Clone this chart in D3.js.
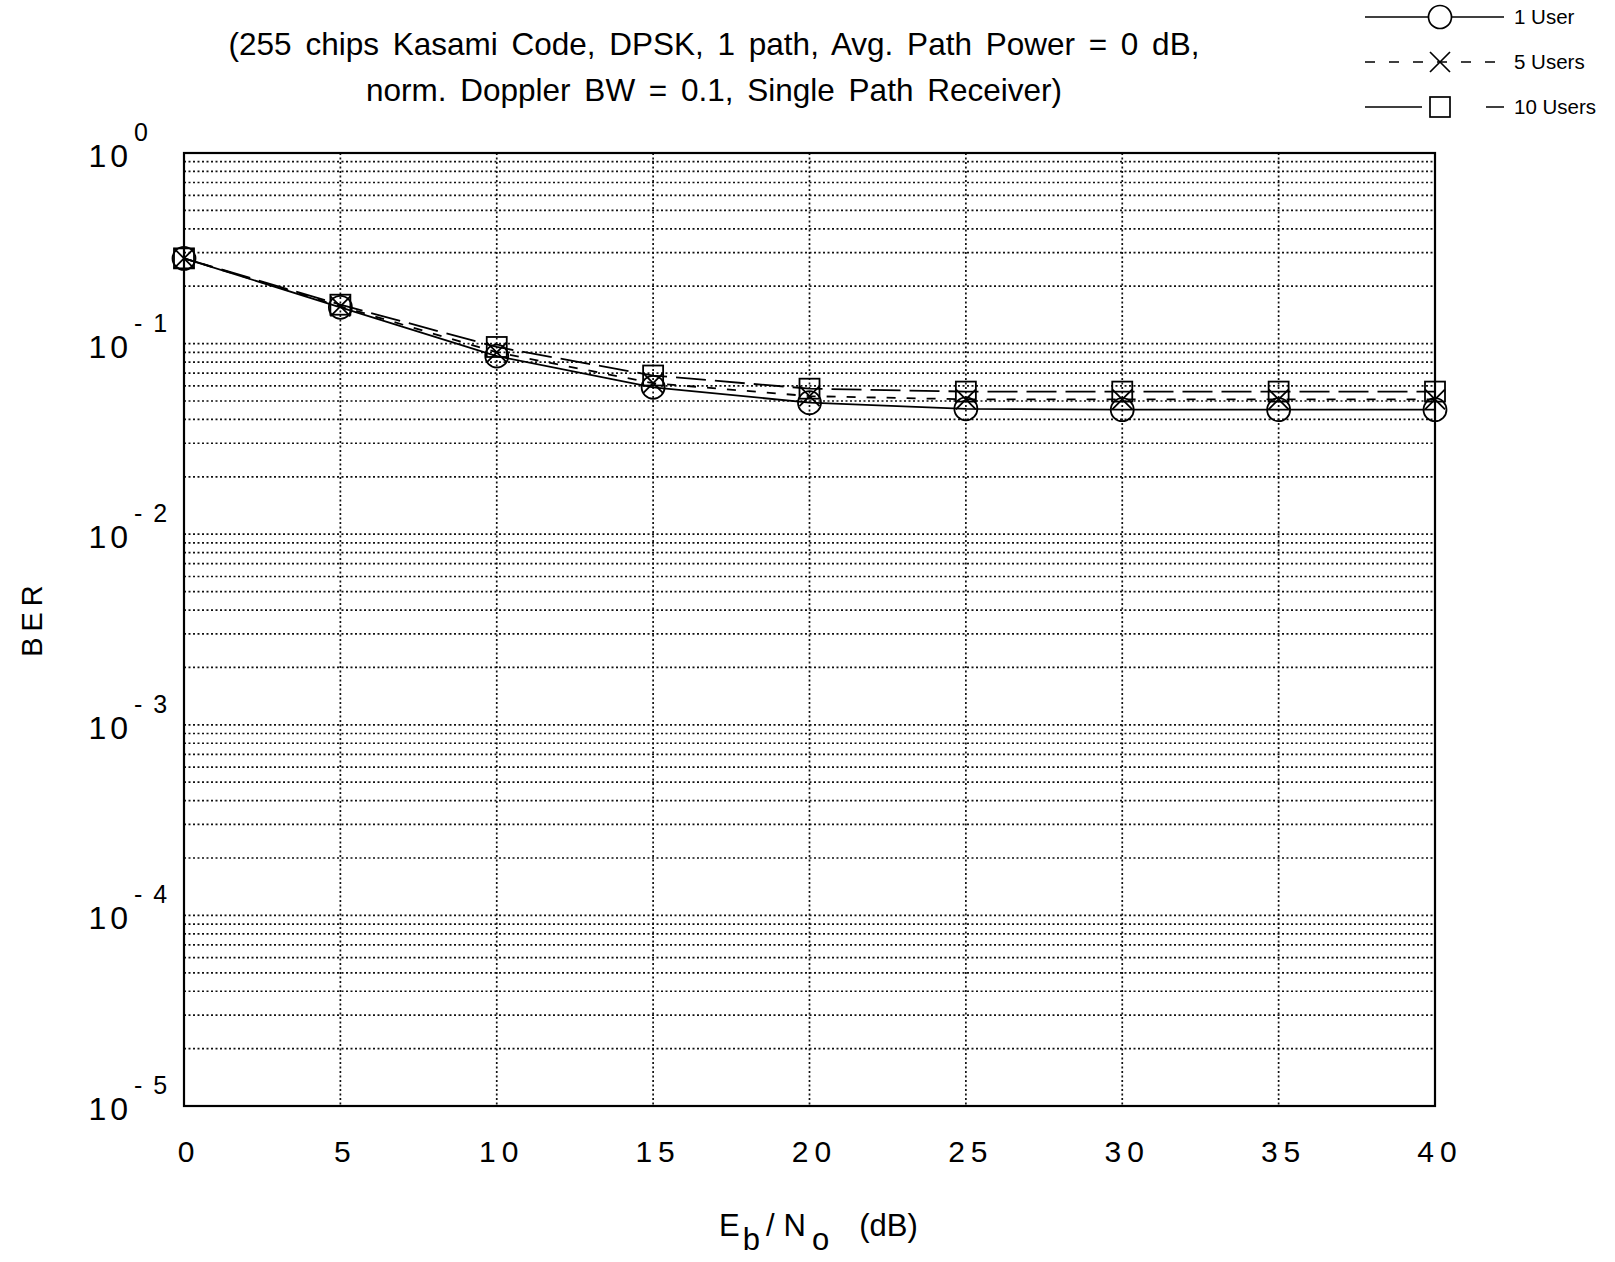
<!DOCTYPE html>
<html>
<head>
<meta charset="utf-8">
<script src="https://cdn.jsdelivr.net/npm/d3@7"></script>
<style>
  body { margin: 0; background: #fff; }
  svg { display: block; font-family: "Liberation Sans", Arial, Helvetica, sans-serif; }
  .grid line { stroke: #111; stroke-width: 1.7; stroke-dasharray: 2,2.5; }
</style>
</head>
<body>
<svg id="chart" width="1615" height="1262"></svg>
<script>
// Eb/No in dB
const snr = [0, 5, 10, 15, 20, 25, 30, 35, 40]
// BER
const ber1User = [0.28, 0.155, 0.086, 0.059, 0.049, 0.0455, 0.045, 0.045, 0.045]
const ber5Users = [0.28, 0.157, 0.09, 0.062, 0.053, 0.051, 0.051, 0.051, 0.051]
const ber10Users = [0.28, 0.16, 0.096, 0.068, 0.058, 0.056, 0.056, 0.056, 0.056]
const xTicks = [0, 5, 10, 15, 20, 25, 30, 35, 40]
const yDecades = [0, -1, -2, -3, -4, -5]
const titleLines = [
  "(255 chips Kasami Code, DPSK, 1 path, Avg. Path Power = 0 dB,",
  "norm. Doppler BW = 0.1, Single Path Receiver)"
]

const series = [
  { name: "1 User", values: ber1User, marker: "circle", dash: null, legendDash: null },
  { name: "5 Users", values: ber5Users, marker: "cross", dash: "9,11", legendDash: "10,14" },
  { name: "10 Users", values: ber10Users, marker: "square", dash: "30,9", legendDash: "57,64,18" }
]

const svg = d3.select("#chart")
const plotLeft = 184, plotRight = 1435, plotTop = 153, plotBottom = 1106

const x = d3.scaleLinear().domain([0, 40]).range([plotLeft, plotRight])
const y = d3.scaleLog().domain([1e-5, 1]).range([plotBottom, plotTop])

// dotted grid
const minor = []
for (let e = -5; e < 0; e++) {
  for (let k = 1; k < 10; k++) minor.push(k * Math.pow(10, e))
}
const grid = svg.append("g").attr("class", "grid")
grid.selectAll(".hg")
  .data(minor.filter(v => v > 1e-5)).enter()
  .append("line")
    .attr("x1", plotLeft).attr("x2", plotRight)
    .attr("y1", d => y(d)).attr("y2", d => y(d))
grid.selectAll(".vg")
  .data(xTicks.slice(1, -1)).enter()
  .append("line")
    .attr("x1", d => x(d)).attr("x2", d => x(d))
    .attr("y1", plotTop).attr("y2", plotBottom)

// frame
svg.append("rect")
  .attr("x", plotLeft).attr("y", plotTop)
  .attr("width", plotRight - plotLeft).attr("height", plotBottom - plotTop)
  .attr("fill", "none").attr("stroke", "#000").attr("stroke-width", 2.2)

// x tick labels
svg.append("g").selectAll("text")
  .data(xTicks).enter()
  .append("text")
    .attr("x", d => x(d) + 5)
    .attr("y", 1162)
    .attr("text-anchor", "middle")
    .attr("font-size", 30)
    .attr("letter-spacing", 6)
    .text(d => d)

// y tick labels 10^n
const yl = svg.append("g").selectAll("g")
  .data(yDecades).enter()
  .append("g")
    .attr("transform", d => `translate(0, ${y(Math.pow(10, d))})`)
yl.append("text")
  .attr("x", 132).attr("y", 14)
  .attr("text-anchor", "end")
  .attr("font-size", 32)
  .attr("letter-spacing", 4)
  .text("10")
yl.append("text")
  .attr("x", 134).attr("y", -12)
  .attr("font-size", 25)
  .attr("letter-spacing", 2)
  .text(d => d == 0 ? "0" : "- " + (-d))

// axis titles
svg.append("text")
  .attr("transform", "translate(42, 618) rotate(-90)")
  .attr("text-anchor", "middle")
  .attr("font-size", 29)
  .attr("letter-spacing", 6)
  .text("BER")

const xl = svg.append("text")
  .attr("x", 719).attr("y", 1236)
  .attr("font-size", 31)
xl.append("tspan").text("E")
xl.append("tspan").attr("dy", 14).attr("dx", 3).text("b")
xl.append("tspan").attr("dy", -14).attr("dx", 6).text("/")
xl.append("tspan").attr("dx", 9).text("N")
xl.append("tspan").attr("dy", 14).attr("dx", 6).text("o")
xl.append("tspan").attr("dy", -14).attr("dx", 30).text("(dB)")

// title
svg.append("g").selectAll("text")
  .data(titleLines).enter()
  .append("text")
    .attr("x", 714)
    .attr("y", (d, i) => 55 + i * 46)
    .attr("text-anchor", "middle")
    .attr("font-size", 31.5)
    .attr("word-spacing", 5)
    .text(d => d)

// markers
const drawMarker = (g, type) => {
  if (type == "circle") {
    g.append("circle").attr("r", 11.5)
  } else if (type == "cross") {
    g.append("path").attr("d", "M-10,-10L10,10M-10,10L10,-10")
  } else {
    g.append("rect").attr("x", -10).attr("y", -10).attr("width", 20).attr("height", 20)
  }
}

const line = d3.line()
  .x((d, i) => x(snr[i]))
  .y(d => y(d))

const plot = svg.append("g")
series.forEach(s => {
  plot.append("path")
    .attr("d", line(s.values))
    .attr("fill", "none")
    .attr("stroke", "#000")
    .attr("stroke-width", 1.8)
    .attr("stroke-dasharray", s.dash)
  plot.append("g").selectAll("g")
    .data(s.values).enter()
    .append("g")
      .attr("transform", (d, i) => `translate(${x(snr[i])}, ${y(d)})`)
      .attr("fill", "none")
      .attr("stroke", "#000")
      .attr("stroke-width", 1.8)
      .each(function() { drawMarker(d3.select(this), s.marker) })
})

// legend
const legend = svg.append("g").selectAll("g")
  .data(series).enter()
  .append("g")
    .attr("transform", (d, i) => `translate(0, ${17 + i * 45})`)
legend.append("line")
  .attr("x1", 1365).attr("x2", 1504)
  .attr("stroke", "#000").attr("stroke-width", 1.7)
  .attr("stroke-dasharray", d => d.legendDash)
legend.append("g")
  .attr("transform", "translate(1440, 0)")
  .attr("fill", "#fff").attr("stroke", "#000").attr("stroke-width", 1.7)
  .each(function(d) { drawMarker(d3.select(this), d.marker) })
legend.append("text")
  .attr("x", 1514).attr("y", 7)
  .attr("font-size", 20.5)
  .text(d => d.name)
</script>
</body>
</html>
